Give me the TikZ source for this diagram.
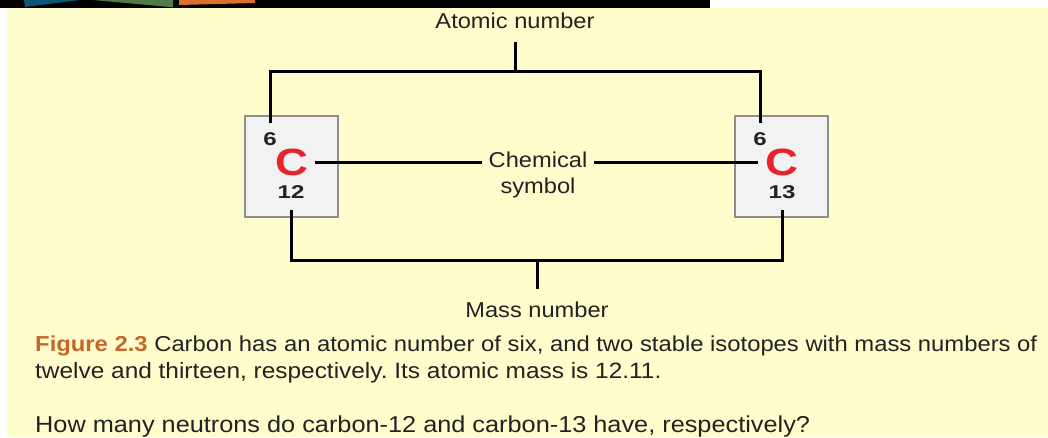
\documentclass[tikz,border=0pt]{standalone}
\usepackage{fontspec}
\setmainfont{Liberation Sans}[FakeStretch=1.1]
\newfontfamily\boxfont{Liberation Sans}[FakeStretch=1.3]
\newfontfamily\symfont{Liberation Sans}[FakeStretch=1.2]
\usetikzlibrary{positioning}
\frenchspacing

\definecolor{pagebg}{HTML}{FFFDCC}
\definecolor{boxfill}{HTML}{F2F2F2}
\definecolor{boxline}{HTML}{8E8E8E}
\definecolor{symred}{HTML}{E8232B}
\definecolor{ink}{HTML}{222222}
\definecolor{figorange}{HTML}{C9672B}
\definecolor{tabblue}{HTML}{0E5677}
\definecolor{tabgreen}{HTML}{527A45}
\definecolor{taborange}{HTML}{D9702B}

\begin{document}
\begin{tikzpicture}[x=1pt,y=-1pt,
  isobox/.style={rectangle, draw=boxline, fill=boxfill, line width=2pt, minimum width=93pt, minimum height=101pt, inner sep=0pt},
  elem/.style={text=symred, font=\symfont\bfseries\fontsize{38}{38}\selectfont, inner sep=0pt},
  num/.style={text=ink, font=\boxfont\bfseries\fontsize{18.5}{18}\selectfont, inner sep=0pt, text height=13pt, text depth=0pt},
  lbl/.style={text=ink, font=\fontsize{21.5}{26}\selectfont, inner sep=0pt, align=center},
  captext/.style={text=ink, inner sep=0pt, anchor=base west},
  brk/.style={line width=3pt, black}
]
% page background and the cut-off header strip
\useasboundingbox (0,0) rectangle (1048,437);
\fill[white] (0,0) rectangle (1048,437);
\fill[pagebg] (7,8) rectangle (1048,437);
\fill[black] (0,0) rectangle (710,7.5);
\fill[tabblue] (24,0) -- (80,0) -- (25,7) -- cycle;
\fill[tabgreen] (93,0) -- (173,0) -- (173,7.3) -- cycle;
\fill[taborange] (179,0) -- (255,0) -- (255,3) -- (179,5) -- cycle;

% the two isotopes
\node[isobox] (box12) at (291.5,166.5) {};
\node[isobox] (box13) at (781.5,166.5) {};
\node[elem] (c12) at (292,162) {C};
\node[elem] (c13) at (782,162) {C};
\node[num] (z12) at (270,139) {6};
\node[num] (z13) at (760,139) {6};
\node[num] (a12) at (291,192) {12};
\node[num] (a13) at (782,192) {13};

% labels
\node[lbl] (atomic) at (515,21) {Atomic number};
\node[lbl] (chem) at (538,175) {Chemical\\symbol};
\node[lbl] (mass) at (537,310) {Mass number};

\coordinate (atop) at (515,71);
\coordinate (mjoin) at (537,260);

% brackets
\draw[brk, shorten <=9.5pt, shorten >=9.5pt] (z12.north) |- (atop) -| (z13.north);
\draw[brk, shorten >=12.5pt] (atop) -- (atomic.south);
\draw[brk, shorten <=6pt, shorten >=7pt] (c12.east) -- (c12.east -| chem.west);
\draw[brk, shorten <=7pt, shorten >=7pt] (chem.east |- c13.west) -- (c13.west);
\draw[brk, shorten <=11.5pt, shorten >=11.5pt] (a12.south) |- (mjoin) -| (a13.south);
\draw[brk, shorten >=13pt] (mjoin) -- (mass.north);

% caption
\node[captext, font=\fontsize{21.65}{27}\selectfont] (cap1) at (35,351) {\textcolor{figorange}{\bfseries Figure 2.3} Carbon has an atomic number of six, and two stable isotopes with mass numbers of};
\node[captext, font=\fontsize{22.2}{27}\selectfont] (cap2) at (35,378) {twelve and thirteen, respectively. Its atomic mass is 12.11.};
\node[captext, font=\fontsize{23}{27}\selectfont] (question) at (35,432) {How many neutrons do carbon-12 and carbon-13 have, respectively?};
\end{tikzpicture}
\end{document}
